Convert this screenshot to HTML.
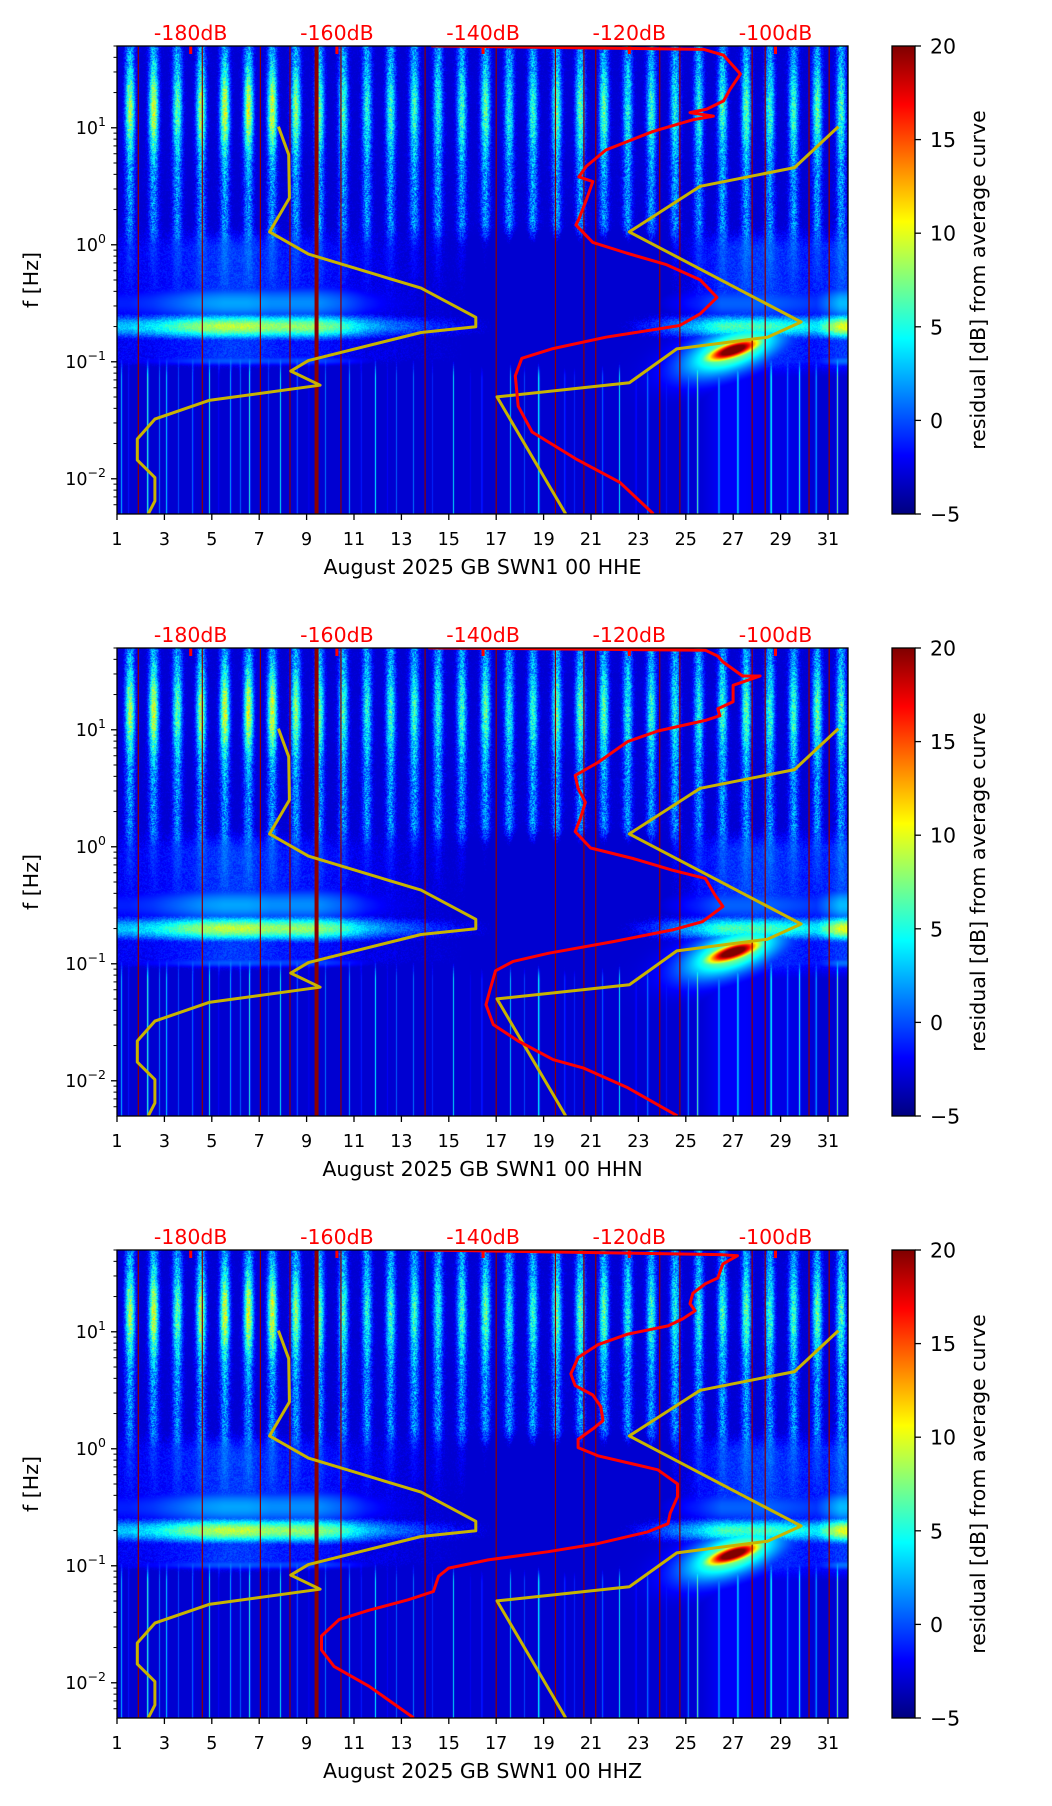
<!DOCTYPE html>
<html><head><meta charset="utf-8">
<style>
html,body{margin:0;padding:0;background:#fff;}
#wrap{position:relative;width:1052px;height:1806px;overflow:hidden;background:#fff;}
canvas{position:absolute;left:117px;}
svg{position:absolute;left:0;top:0;}
text{font-family:"DejaVu Sans","Liberation Sans",sans-serif;}
</style></head>
<body>
<div id="wrap">
<canvas id="c0" width="731" height="468" style="top:46px"></canvas>
<canvas id="c1" width="731" height="468" style="top:648px"></canvas>
<canvas id="c2" width="731" height="468" style="top:1250px"></canvas>
<svg id="svg" width="1052" height="1806" xmlns="http://www.w3.org/2000/svg">
<defs>
<linearGradient id="jet" x1="0" y1="1" x2="0" y2="0">
<stop offset="0" stop-color="#00007f"/><stop offset="0.125" stop-color="#0000ff"/>
<stop offset="0.375" stop-color="#00ffff"/><stop offset="0.625" stop-color="#ffff00"/>
<stop offset="0.875" stop-color="#ff0000"/><stop offset="1" stop-color="#7f0000"/>
</linearGradient>
</defs>
</svg>
</div>
<script>
// ---------- data ----------
const panelNames = ["HHE","HHN","HHZ"];
const dayTicks = [1,3,5,7,9,11,13,15,17,19,21,23,25,27,29,31];
const dbTicks = [-180,-160,-140,-120,-100];
const cbTicks = [-5,0,5,10,15,20];
const freqDecades = [-2,-1,0,1];
// New Low Noise Model (log10 f, dB)
const nlnmF = [1.01,0.77,0.40,0.11,-0.08,-0.37,-0.62,-0.70,-0.75,-0.99,-1.08,-1.20,-1.33,-1.49,-1.66,-1.84,-1.99,-2.19,-2.30];
const nlnmDb = [-168,-166.6,-166.5,-169.2,-163.9,-148.5,-141,-141,-148.5,-163.9,-166.3,-162.3,-177.5,-184.9,-187.3,-187.3,-184.9,-184.9,-185.8];
// New High Noise Model
const nhnmF = [1.01,0.66,0.50,0.11,-0.66,-0.79,-0.89,-1.18,-1.30,-2.30];
const nhnmDb = [-91.4,-97.4,-110.3,-120,-96.5,-101.1,-113.5,-120,-138.1,-128.7];
// average curves per channel
const redHHEf = [1.70,1.67,1.62,1.46,1.33,1.23,1.16,1.13,1.10,1.07,0.97,0.81,0.67,0.58,0.54,0.38,0.22,0.17,0.02,-0.07,-0.17,-0.30,-0.45,-0.59,-0.69,-0.79,-0.89,-0.97,-1.12,-1.38,-1.60,-1.83,-2.03,-2.30];
const redHHEdb = [-147.1,-109.8,-107.1,-104.8,-106.2,-107.1,-109.4,-111.7,-108.5,-111.2,-116.7,-123.2,-125.9,-126.9,-125.0,-125.9,-126.9,-127.3,-125.0,-120.4,-114.9,-110.3,-108.0,-110.3,-113.1,-123.2,-130.6,-134.7,-135.6,-135.2,-133.3,-127.3,-121.3,-116.7];
const redHHNf = [1.70,1.68,1.63,1.58,1.46,1.46,1.38,1.24,1.18,1.12,1.08,0.99,0.90,0.72,0.61,0.50,0.38,0.24,0.13,-0.01,-0.10,-0.20,-0.27,-0.41,-0.51,-0.64,-0.71,-0.81,-0.91,-0.98,-1.06,-1.21,-1.35,-1.52,-1.66,-1.82,-1.89,-2.06,-2.30];
const redHHNdb = [-147.5,-109.6,-107.9,-107.2,-104.5,-102.1,-105.8,-105.8,-107.9,-107.6,-109.6,-116.1,-120.2,-124.3,-127.4,-127.0,-126.0,-126.7,-127.4,-125.3,-119.5,-114.1,-109.6,-108.3,-107.2,-110.0,-114.1,-122.2,-131.1,-135.9,-138.3,-139.0,-139.6,-138.6,-135.2,-130.4,-126.3,-120.2,-113.4];
const redHHZf = [1.70,1.66,1.65,1.58,1.46,1.41,1.33,1.24,1.18,1.11,1.05,0.98,0.89,0.78,0.64,0.54,0.46,0.36,0.24,0.17,0.08,0.01,-0.06,-0.13,-0.18,-0.30,-0.41,-0.55,-0.64,-0.71,-0.81,-0.88,-0.95,-1.02,-1.09,-1.22,-1.29,-1.38,-1.46,-1.60,-1.72,-1.86,-2.03,-2.30];
const redHHZdb = [-148.8,-107.6,-105.2,-107.2,-107.9,-109.6,-111.3,-111.7,-111.0,-112.7,-114.7,-120.2,-124.3,-127.0,-128.0,-127.4,-125.0,-123.9,-123.6,-125.0,-127.0,-127.0,-124.3,-119.5,-116.1,-113.4,-113.4,-114.4,-114.7,-117.5,-124.3,-131.1,-139.3,-144.7,-146.1,-146.8,-150.2,-155.6,-159.7,-162.1,-162.1,-160.4,-155.6,-149.5];
// heatmap descriptors (per day 1..31, residual dB)
const hiAmp = [7,8,5,7,8,8,8,6,5,4,3,4,4,3,4,5,3,4,5,5,5,3,4,3,3,4,5,4,4,5,4];
const microAmp = [3,4,6,8,9,9,8,8,8,6,3,1,0,-1,-2,-3,-5,-5,-5,-5,-5,-3,-1,1,3,6,6,6,5,4,10];
const midAmp = [-2,-2,-1.5,-1,-0.5,-0.5,-1,-1.5,-1.5,-2,-2.5,-2.5,-3,-3,-3.5,-4.5,-6,-6,-6,-6,-6,-6,-5,-3.5,-2,-1,-0.5,-0.5,-1,-1.5,-0.5];
const lowAmp = [-4.5,-4.5,-4.8,-4.8,-4.8,-4.8,-5,-5,-5,-5,-5,-5.2,-5.2,-5.2,-5.2,-5.2,-5,-5,-5,-5,-5,-5,-5,-4.5,-3,-2,-2,-2.5,-2.5,-3,-3];
const spikeDays = [1.2,1.5,2.3,2.8,3.1,3.6,4.2,4.9,5.3,5.8,6.2,6.6,7.4,7.9,8.6,9.1,9.8,10.8,11.3,11.9,12.4,12.8,13.5,14.3,15.2,15.9,16.4,17.6,18.2,18.8,19.9,20.3,21.5,22.2,22.9,23.4,24.2,25.1,25.5,26.4,27.2,28.6,29.3,29.8,30.5,31.4];
const spikeAmp = [8,4,12,6,9,5,7,10,4,8,6,11,5,9,7,4,6,8,5,10,4,6,7,5,9,4,6,8,5,12,6,4,7,9,5,8,4,6,10,5,7,9,4,8,6,10];
const gapDays = [1.9,4.6,7.05,8.3,10.45,14.0,17.0,19.5,20.7,21.2,23.9,24.75,27.8,28.35,30.2,31.05];
const thickGap = 9.42;

// ---------- geometry ----------
const tops = [46,648,1250];
const L0 = 117, PW = 731, PH = 468;
function X(t){ return L0 + (t-1)*23.70; }
function Y(lf,p){ return tops[p] + (1.699-lf)*117; }
function DBX(db){ return 190.7 + (db+180)*7.31; }
function CBY(v,p){ return tops[p] + PH - (v+5)/25*PH; }

// ---------- heatmap ----------
function clamp(a){ return a<0?0:(a>1?1:a); }
function jet(v){ const n=(Math.max(-5,Math.min(20,v))+5)/25;
  return [clamp(1.5-Math.abs(4*n-3))*255, clamp(1.5-Math.abs(4*n-2))*255, clamp(1.5-Math.abs(4*n-1))*255]; }
function interp(arr,t){ const x=t-1.5; let i0=Math.floor(x); let w=x-i0; if(i0<0){i0=0;w=0;} if(i0>30){i0=30;w=0;} const i1=Math.min(30,i0+1); return arr[i0]*(1-w)+arr[i1]*w; }
function g(x,c,s){ const d=(x-c)/s; return Math.exp(-d*d); }
function sstep(a,b,x){ const u=clamp((x-a)/(b-a)); return u*u*(3-2*u); }
function tex(x,y){ return ((x*73856093)^(y*19349663))>>>0; }
function drawHeat(p){
  const cv=document.getElementById('c'+p), ctx=cv.getContext('2d');
  const img=ctx.createImageData(PW,PH), d=img.data;
  const spikeCol=new Float32Array(PW);
  for(let x=0;x<PW;x++){ const t=1+(x+0.5)/23.70; let s=0;
    for(let k=0;k<spikeDays.length;k++){ const dd=(t-spikeDays[k])/0.03; if(dd*dd<9) s=Math.max(s,spikeAmp[k]*Math.exp(-dd*dd)); }
    spikeCol[x]=s; }
  for(let x=0;x<PW;x++){
    const t=1+(x+0.5)/23.70; const di=Math.min(30,Math.max(0,Math.floor(t)-1)); const fr=t-Math.floor(t);
    const day=g(fr,0.55,0.2);
    const hi=hiAmp[di], mi=interp(microAmp,t), md=interp(midAmp,t), lo=interp(lowAmp,t);
    for(let y=0;y<PH;y++){
      const L=1.699-(y+0.5)/117;
      const wHi=sstep(-0.05,0.2,L), wLow=1-sstep(-1.15,-0.95,L);
      const nz=(tex(x,y)%100)/100;
      const vHi=-3.3+day*(5+hi*g(L,1.15,0.35))+(nz-0.5)*4*(0.4+day);
      const vMid=md+day*1.5*sstep(-0.6,0,L)+(nz-0.5)*1.5;
      let v=wHi*vHi+(1-wHi)*vMid;
      v=Math.max(v,-5+(mi+5)*g(L,-0.7,0.11)+(nz-0.5)*2);
      v=Math.max(v,-5+(mi+4)*0.55*g(L,-0.5,0.18));
      v=Math.max(v,-5+(mi+3)*0.5*g(L,-1.0,0.06));
      const vLow=lo+spikeCol[x]*(L<-0.95?1:0);
      v=wLow*Math.max(vLow,-5)+(1-wLow)*v;
      const bx=(t-27.0)/1.2, by=(L-(-0.9+0.06*(t-27)))/0.075;
      v=Math.max(v,27*Math.exp(-(bx*bx+by*by))-3, 12*Math.exp(-(bx*bx/3+by*by/6))-3);
      const c=jet(v), i=(y*PW+x)*4;
      d[i]=c[0];d[i+1]=c[1];d[i+2]=c[2];d[i+3]=255;
    }
  }
  ctx.putImageData(img,0,0);
}

// ---------- svg helpers ----------
const NS='http://www.w3.org/2000/svg';
const svg=document.getElementById('svg');
function mk(tag,attrs,parent){ const e=document.createElementNS(NS,tag); for(const k in attrs) e.setAttribute(k,attrs[k]); (parent||svg).appendChild(e); return e; }
function pathFrom(fs,dbs,p){ let s=''; for(let i=0;i<fs.length;i++){ s+=(i?'L':'M')+DBX(dbs[i]).toFixed(1)+','+Y(fs[i],p).toFixed(1); } return s; }
const reds=[[redHHEf,redHHEdb],[redHHNf,redHHNdb],[redHHZf,redHHZdb]];

for(let p=0;p<3;p++){
  drawHeat(p);
  const top=tops[p], bot=top+PH;
  const grp=mk('g',{});
  
  
  const cp=mk('clipPath',{id:'clip'+p},grp);
  mk('rect',{x:L0,y:top,width:PW,height:PH},cp);
  const cg=mk('g',{'clip-path':'url(#clip'+p+')'},grp);
  for(const gd of gapDays){
    const gl=mk('line',{x1:X(gd),x2:X(gd),y1:top,y2:bot,stroke:'#8b0000','stroke-width':1.2},cg);
    
    
  }
  const tg=mk('line',{x1:X(thickGap),x2:X(thickGap),y1:top,y2:bot,stroke:'#8b0000','stroke-width':4},cg);
  
  
  for(const db of dbTicks){
    const rt=mk('rect',{x:DBX(db)-1.5,y:top,width:3,height:8,fill:'#ff0000'},cg);
    
    
  }
  const lo=mk('path',{d:pathFrom(nlnmF,nlnmDb,p),fill:'none',stroke:'#c8b400','stroke-width':3,'stroke-linejoin':'round'},cg);
  
  
  const hi=mk('path',{d:pathFrom(nhnmF,nhnmDb,p),fill:'none',stroke:'#c8b400','stroke-width':3,'stroke-linejoin':'round'},cg);
  
  
  const rc=mk('path',{d:pathFrom(reds[p][0],reds[p][1],p),fill:'none',stroke:'#ff0000','stroke-width':3,'stroke-linejoin':'round'},cg);
  
  
  const fr=mk('rect',{x:L0,y:top,width:PW,height:PH,fill:'none',stroke:'#000','stroke-width':1.3},grp);
  
  
  for(const dt of dayTicks){
    const tl=mk('line',{x1:X(dt),x2:X(dt),y1:bot,y2:bot+6,stroke:'#000','stroke-width':1.3},grp);
    
    
    const tt=mk('text',{x:X(dt),y:bot+31,'font-size':17.5,'text-anchor':'middle'},grp);
    tt.textContent=String(dt);
    
    
  }
  const xl=mk('text',{x:L0+PW/2,y:bot+60,'font-size':20.5,'text-anchor':'middle'},grp);
  xl.textContent='August 2025 GB SWN1 00 '+panelNames[p];
  
  
  for(const dec of freqDecades){
    const yy=Y(dec,p);
    const yl=mk('line',{x1:L0-6,x2:L0,y1:yy,y2:yy,stroke:'#000','stroke-width':1.3},grp);
    
    
    const yt=mk('text',{x:106,y:yy+6,'font-size':17.5,'text-anchor':'end'},grp);
    
    
    const b=mk('tspan',{},yt); b.textContent='10';
    const s=mk('tspan',{'font-size':12.5,dy:-8},yt); s.textContent=(dec<0?'\u2212':'')+Math.abs(dec);
  }
  for(let dec=-3;dec<=1;dec++){ for(let m=2;m<=9;m++){ const lf=dec+Math.log10(m); if(lf< -2.301||lf>1.699) continue;
    const yy=Y(lf,p);
    const ml=mk('line',{x1:L0-3.5,x2:L0,y1:yy,y2:yy,stroke:'#000','stroke-width':1},grp);
    
    
  }}
  const yl=mk('text',{x:0,y:0,'font-size':20.5,'text-anchor':'middle',transform:'translate(38,'+(top+PH/2)+') rotate(-90)'},grp);
  yl.textContent='f [Hz]';
  
  
  for(const db of dbTicks){
    const dl=mk('text',{x:DBX(db),y:top-6,'font-size':20.5,'text-anchor':'middle',fill:'#ff0000'},grp);
    dl.textContent=db+'dB';
    
    
  }
  const cb=mk('rect',{x:892,y:top,width:23,height:PH,fill:'url(#jet)',stroke:'#000','stroke-width':1.3},grp);
  
  
  for(const v of cbTicks){
    const yy=CBY(v,p);
    const cl=mk('line',{x1:915,x2:921,y1:yy,y2:yy,stroke:'#000','stroke-width':1.3},grp);
    
    
    const ct=mk('text',{x:930,y:yy+7.5,'font-size':20.5},grp);
    ct.textContent=(v<0?'\u2212':'')+Math.abs(v);
    
    
  }
  const cbl=mk('text',{x:0,y:0,'font-size':20.5,'text-anchor':'middle',transform:'translate(985,'+(top+PH/2)+') rotate(-90)'},grp);
  cbl.textContent='residual [dB] from average curve';
  
  
}
</script>
</body></html>
